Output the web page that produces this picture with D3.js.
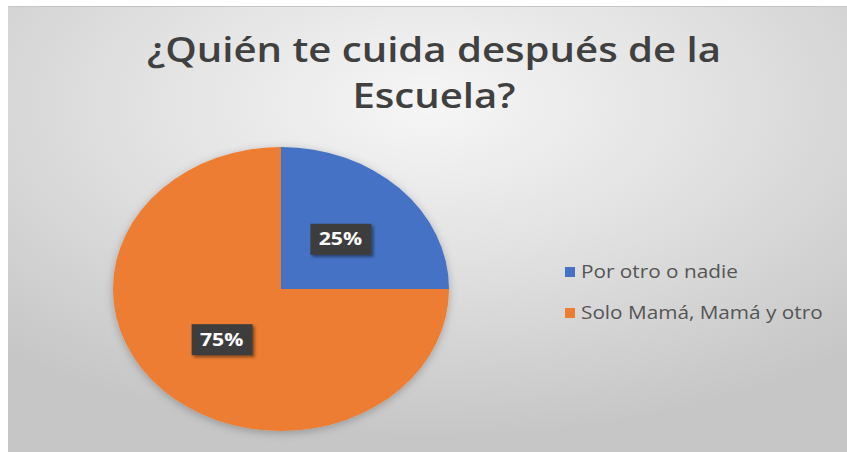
<!DOCTYPE html>
<html>
<head>
<meta charset="utf-8">
<script src="https://cdn.jsdelivr.net/npm/d3@7"></script>
<style>
  body { margin: 0; background: #fff; }
  svg { display: block; }
</style>
</head>
<body>
<svg id="chart" width="847" height="452"></svg>
<script>
// data
var categories = ['Por otro o nadie', 'Solo Mamá, Mamá y otro'];
var values = [25, 75];
var colors = ['#4472C4', '#ED7D31'];
var titleLines = ['¿Quién te cuida después de la', 'Escuela?'];

var width = 847, height = 452;
var stretch = 1.18; // the source picture is widened horizontally
var svg = d3.select('#chart');
var defs = svg.append('defs');

// background gradient like the excel chart area
var grad = defs.append('radialGradient')
    .attr('id', 'bg')
    .attr('cx', '50%').attr('cy', '22%').attr('r', '75%');
grad.append('stop').attr('offset', '0%').attr('stop-color', '#f6f6f6');
grad.append('stop').attr('offset', '45%').attr('stop-color', '#e2e2e2');
grad.append('stop').attr('offset', '100%').attr('stop-color', '#c6c6c6');

var shadow = defs.append('filter').attr('id', 'shadow')
    .attr('x', '-20%').attr('y', '-20%').attr('width', '140%').attr('height', '140%');
shadow.append('feDropShadow')
    .attr('dx', 0).attr('dy', 2).attr('stdDeviation', 4)
    .attr('flood-color', '#000').attr('flood-opacity', 0.25);

var lblShadow = defs.append('filter').attr('id', 'lblshadow')
    .attr('x', '-30%').attr('y', '-30%').attr('width', '160%').attr('height', '160%');
lblShadow.append('feDropShadow')
    .attr('dx', 2).attr('dy', 2).attr('stdDeviation', 1.5)
    .attr('flood-color', '#000').attr('flood-opacity', 0.45);

svg.append('rect')
    .attr('x', 8).attr('y', 6)
    .attr('width', width - 8).attr('height', height - 6)
    .attr('fill', 'url(#bg)');
svg.append('line')
    .attr('x1', 8).attr('x2', width).attr('y1', 6.5).attr('y2', 6.5)
    .attr('stroke', '#c4c4c4').attr('stroke-width', 1);

// title
svg.append('g').selectAll('text').data(titleLines).enter()
    .append('text')
    .attr('transform', (d, i) => `translate(434,${62 + i * 46}) scale(${stretch},1)`)
    .attr('text-anchor', 'middle')
    .attr('font-family', 'Open Sans, sans-serif')
    .attr('font-weight', 600)
    .attr('font-size', 34)
    .attr('fill', '#404040')
    .text(d => d);

// pie (stretched like the picture)
var cx = 281, cy = 289, rx = 168, ry = 142;
var color = d3.scaleOrdinal().domain(categories).range(colors);
var pie = d3.pie().sort(null).value(d => d.value);
var arcs = pie(categories.map((c, i) => ({ name: c, value: values[i] })));
var arc = d3.arc().innerRadius(0).outerRadius(1);

var pieG = svg.append('g')
    .attr('transform', `translate(${cx},${cy})`)
    .attr('filter', 'url(#shadow)');
pieG.selectAll('path').data(arcs).enter()
    .append('path')
    .attr('transform', `scale(${rx},${ry})`)
    .attr('d', arc)
    .attr('fill', d => color(d.data.name));

// data labels
var lbl = svg.append('g').attr('transform', `translate(${cx},${cy})`)
    .selectAll('g').data(arcs).enter()
    .append('g')
    .attr('transform', d => {
      var c = arc.centroid(d);
      return `translate(${c[0] * rx},${c[1] * ry})`;
    });
lbl.append('rect')
    .attr('x', -30).attr('y', -15)
    .attr('width', 61).attr('height', 31)
    .attr('fill', '#3d3d3d')
    .attr('filter', 'url(#lblshadow)');
lbl.append('text')
    .attr('transform', `scale(${stretch},1)`)
    .attr('text-anchor', 'middle')
    .attr('dy', '0.36em')
    .attr('font-family', 'Open Sans, sans-serif')
    .attr('font-weight', 700)
    .attr('font-size', 18)
    .attr('fill', '#fff')
    .text(d => d.data.value + '%');

// legend
var ly = d3.scalePoint().domain(categories).range([272, 313]);
var leg = svg.append('g').selectAll('g').data(categories).enter()
    .append('g')
    .attr('transform', d => `translate(565,${ly(d)})`);
leg.append('rect')
    .attr('x', 0).attr('y', -5)
    .attr('width', 10).attr('height', 10)
    .attr('fill', d => color(d));
leg.append('text')
    .attr('transform', `translate(16,0) scale(${stretch},1)`)
    .attr('dy', '0.35em')
    .attr('font-family', 'Open Sans, sans-serif')
    .attr('font-size', 17.6)
    .attr('fill', '#555555')
    .text(d => d);
</script>
</body>
</html>
